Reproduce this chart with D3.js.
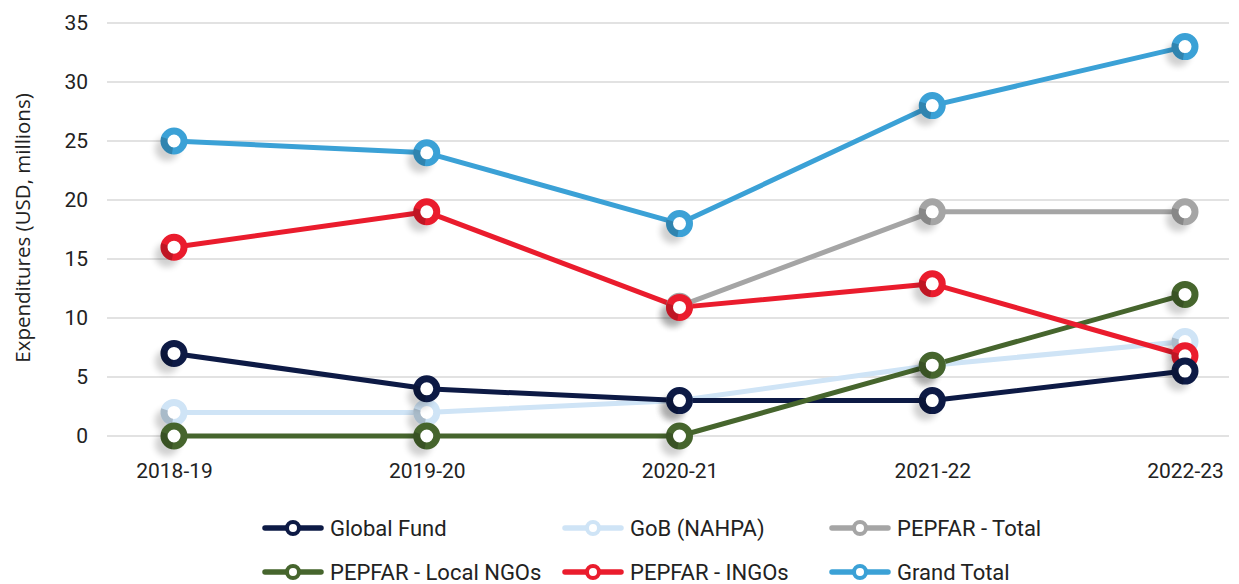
<!DOCTYPE html>
<html>
<head>
<meta charset="utf-8">
<script src="https://cdn.jsdelivr.net/npm/d3@7/dist/d3.min.js"></script>
<style>
  html, body { margin: 0; padding: 0; background: #ffffff; }
  svg { display: block; }
</style>
</head>
<body>
<svg id="chart" width="1239" height="584"></svg>
<script>
// Expenditures by funding source (USD, millions)
const years = ["2018-19", "2019-20", "2020-21", "2021-22", "2022-23"];
const yTicks = [0, 5, 10, 15, 20, 25, 30, 35];

const globalFund   = [7, 4, 3, 3, 5.5];
const gobNahpa     = [2, 2, 3, 6, 8];
const pepfarTotal  = [null, null, 11, 19, 19];
const pepfarLocal  = [0, 0, 0, 6, 12];
const pepfarINGO   = [16, 19, 10.9, 12.9, 6.8];
const grandTotal   = [25, 24, 18, 28, 33];

const seriesNames  = ["Global Fund", "GoB (NAHPA)", "PEPFAR - Total", "PEPFAR - Local NGOs", "PEPFAR - INGOs", "Grand Total"];
const seriesColors = ["#0d1a45", "#cfe4f6", "#a5a5a5", "#46652d", "#ea1c2d", "#3ba1d6"];
const seriesValues = [globalFund, gobNahpa, pepfarTotal, pepfarLocal, pepfarINGO, grandTotal];

const series = seriesNames.map((name, i) => ({
  name, color: seriesColors[i],
  points: seriesValues[i].map((v, j) => ({ year: years[j], value: v })).filter(p => p.value !== null)
}));

// stacking order of lines and of markers
const lineOrder   = [1, 2, 0, 3, 4, 5];
const markerOrder = [1, 2, 3, 4, 5, 0];

const svg = d3.select("#chart");

const x = d3.scalePoint().domain(years).range([174, 1185]);
const y = d3.scaleLinear().domain([0, 35]).range([436, 23]);
const gridLeft = 107, gridRight = 1229;

// soft shadow behind markers
const defs = svg.append("defs");
const f = defs.append("filter").attr("id", "mshadow")
  .attr("x", "-100%").attr("y", "-100%").attr("width", "300%").attr("height", "300%");
f.append("feGaussianBlur").attr("stdDeviation", 3.2);

// gridlines
svg.append("g").selectAll("line").data(yTicks).join("line")
  .attr("x1", gridLeft).attr("x2", gridRight)
  .attr("y1", d => y(d)).attr("y2", d => y(d))
  .attr("stroke", "#d9d9d9").attr("stroke-width", 1.6);

// y axis labels
const yAxis = d3.axisLeft(y).tickValues(yTicks).tickSize(0).tickPadding(0);
const yg = svg.append("g").attr("transform", "translate(88,0)").call(yAxis);
yg.select(".domain").remove();
yg.selectAll("text").attr("font-size", 21)
  .attr("dy", "0.33em").attr("x", 0).style("font-family", "Roboto, sans-serif").attr("fill", "#222");

// x axis labels
const xAxis = d3.axisBottom(x).tickSize(0).tickPadding(0);
const xg = svg.append("g").attr("transform", "translate(0,462)").call(xAxis);
xg.select(".domain").remove();
xg.selectAll("text").attr("font-size", 21).attr("dy", "0.78em")
  .style("font-family", "Roboto, sans-serif").attr("fill", "#222");

// y axis title
svg.append("text")
  .attr("transform", "translate(30,228) rotate(-90)")
  .attr("text-anchor", "middle")
  .style("font-family", "'Open Sans', sans-serif")
  .attr("font-size", 20.5).attr("fill", "#222")
  .text("Expenditures (USD, millions)");

const line = d3.line().x(d => x(d.year)).y(d => y(d.value));

// lines
const linesG = svg.append("g");
lineOrder.forEach(i => {
  const s = series[i];
  linesG.append("path").datum(s.points)
    .attr("d", line).attr("fill", "none")
    .attr("stroke", s.color).attr("stroke-width", 5)
    .attr("stroke-linejoin", "round");
});

// markers
const R = 10, SW = 7;
const shade = d3.arc().innerRadius(R - SW / 2).outerRadius(R + SW / 2)
  .startAngle(Math.PI * 1.05).endAngle(Math.PI * 1.6);
const markersG = svg.append("g");
markerOrder.forEach(i => {
  const s = series[i];
  const g = markersG.append("g");
  g.selectAll("circle.sh").data(s.points).join("circle").attr("class", "sh")
    .attr("cx", d => x(d.year) - 7).attr("cy", d => y(d.value) + 8)
    .attr("r", R + 2).attr("fill", "#000").attr("opacity", 0.18)
    .attr("filter", "url(#mshadow)");
  g.selectAll("circle.mk").data(s.points).join("circle").attr("class", "mk")
    .attr("cx", d => x(d.year)).attr("cy", d => y(d.value))
    .attr("r", R).attr("fill", "#fff")
    .attr("stroke", s.color).attr("stroke-width", SW);
  g.selectAll("path.shade").data(s.points).join("path").attr("class", "shade")
    .attr("transform", d => `translate(${x(d.year)},${y(d.value)})`)
    .attr("d", shade).attr("fill", "#000").attr("opacity", 0.18);
});

// legend
const legendCols = [330, 630, 897];
const legendRows = [536, 580];
const lg = svg.append("g");
series.forEach((s, i) => {
  const tx = legendCols[i % 3], ty = legendRows[Math.floor(i / 3)];
  const cy = ty - 8;
  const item = lg.append("g");
  item.append("line")
    .attr("x1", tx - 65).attr("x2", tx - 9).attr("y1", cy).attr("y2", cy)
    .attr("stroke", s.color).attr("stroke-width", 5.5).attr("stroke-linecap", "round");
  item.append("circle")
    .attr("cx", tx - 37).attr("cy", cy).attr("r", 6)
    .attr("fill", "#fff").attr("stroke", s.color).attr("stroke-width", 4);
  item.append("text")
    .attr("x", tx).attr("y", ty)
    .style("font-family", "Roboto, sans-serif")
    .attr("font-size", 22).attr("fill", "#222")
    .text(s.name);
});
</script>
</body>
</html>
